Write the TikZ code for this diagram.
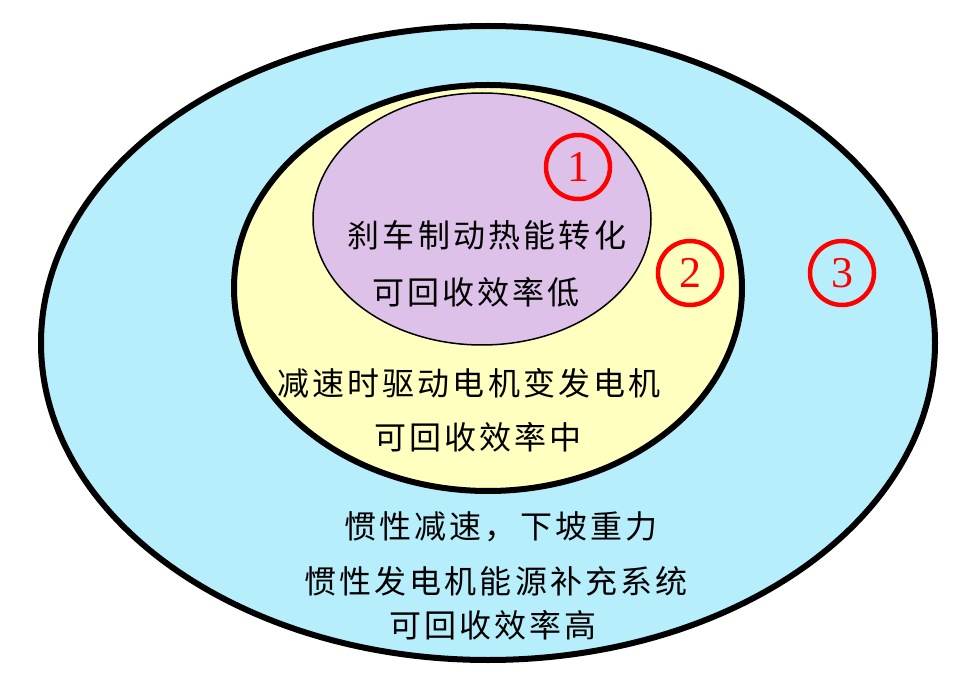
\documentclass[tikz,border=0pt]{standalone}
\usepackage{fontspec}
\setmainfont{Liberation Serif}
\newfontfamily\cjk[LetterSpace=10]{Noto Sans CJK SC}
\definecolor{outerblue}{RGB}{183,238,251}
\definecolor{midyellow}{RGB}{255,255,192}
\definecolor{innerpurple}{RGB}{221,193,232}
\tikzset{
  numcirc/.style={draw=red, circle, line width=4.5pt, text=red, minimum size=64pt, inner sep=0pt, font=\fontsize{44}{44}\selectfont},
  cntext/.style={font=\cjk\fontsize{32}{32}\selectfont, inner sep=0pt}
}
\begin{document}
\begin{tikzpicture}[x=1pt, y=-1pt]
    \useasboundingbox (0,0) rectangle (969,684);

    \draw[line width=6pt, fill=outerblue] (488,343) ellipse [x radius=447, y radius=317];
    \draw[line width=6pt, fill=midyellow] (488,288) ellipse [x radius=254, y radius=203];
    \draw[line width=1.5pt, fill=innerpurple] (482,219) ellipse [x radius=169, y radius=126];

    \node[numcirc] (one) at (578,167) {1};
    \node[numcirc] (two) at (690,273) {2};
    \node[numcirc] (three) at (842,273) {3};

    \node[cntext] (brake) at (487,235) {刹车制动热能转化};
    \node[cntext] (low) at (476,292) {可回收效率低};
    \node[cntext] (motor) at (469,383) {减速时驱动电机变发电机};
    \node[cntext] (mid) at (478,437) {可回收效率中};
    \node[cntext] (slope) at (501,527) {惯性减速，下坡重力};
    \node[cntext] (gen) at (496,581) {惯性发电机能源补充系统};
    \node[cntext] (high) at (493,625) {可回收效率高};
\end{tikzpicture}
\end{document}
